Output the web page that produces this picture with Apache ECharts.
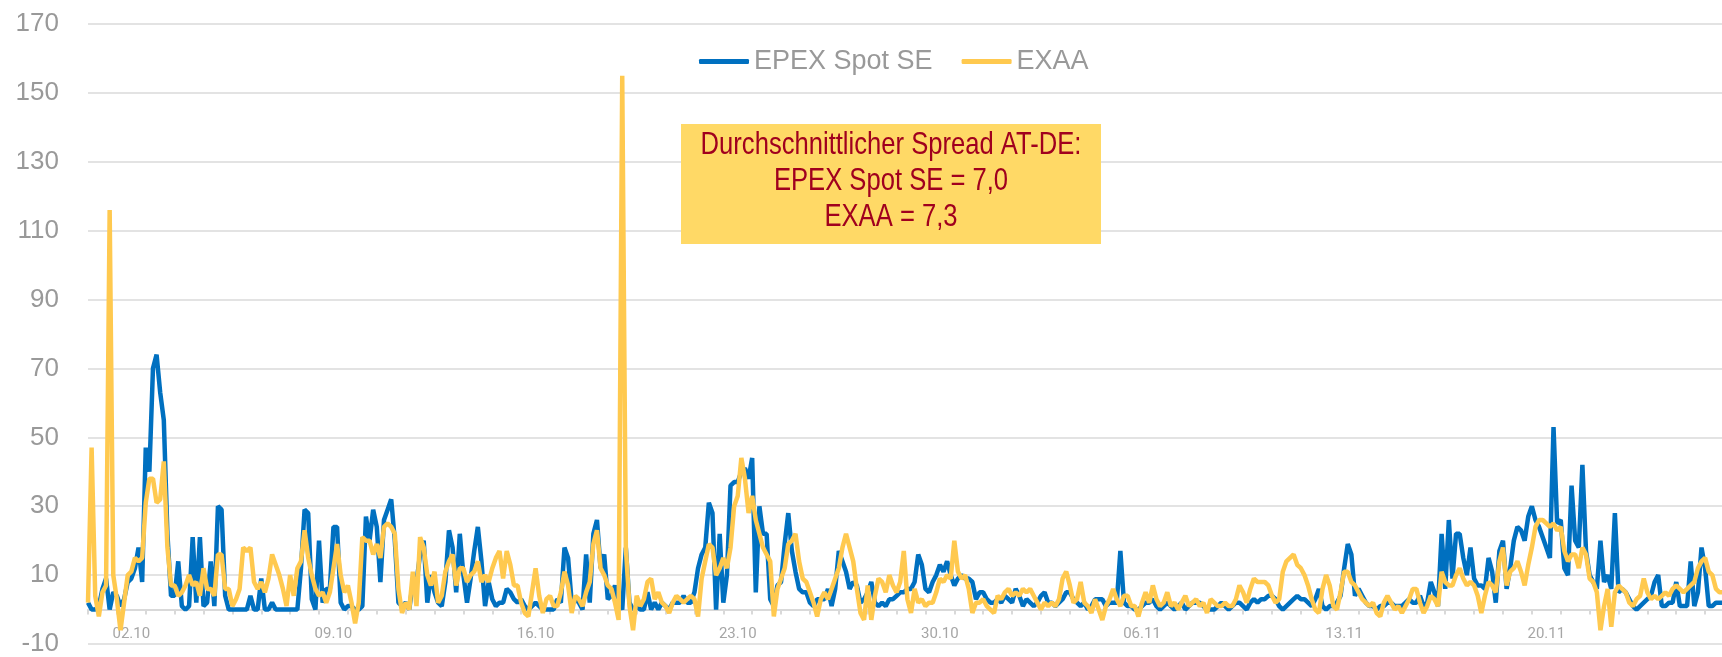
<!DOCTYPE html>
<html>
<head>
<meta charset="utf-8">
<script src="https://cdn.jsdelivr.net/npm/echarts@6/dist/echarts.min.js"></script>
<style>
  html, body { margin: 0; padding: 0; background: #ffffff; }
  #chart { width: 1722px; height: 657px; }
</style>
</head>
<body>
<div id="chart"></div>
<script>
// 3-hourly points starting 01.10 00:00
const STEP_COUNT = 457;

const epexSpotSE = [
  2, 0, 0, 1, 6, 9, 0, 5, 4, 1, 3, 8, 9, 12, 18, 8, 47, 40, 70, 74,
  63, 55, 22, 4, 4, 14, 1, 0, 1, 21, 2, 21, 1, 2, 14, 1, 30, 29, 4, 0,
  0, 0, 0, 0, 0, 4, 0, 0, 9, 0, 0, 2, 0, 0, 0, 0, 0, 0, 0, 12,
  29, 28, 3, 0, 20, 2, 6, 6, 24, 24, 2, 0, 1, 1, 0, 0, 1, 27, 20, 29,
  24, 8, 26, 29, 32, 20, 2, 1,
  2, 0, 8, 8, 16, 20, 2, 10, 5, 2, 1, 8, 23, 18, 5, 22, 10, 2, 9, 17,
  24, 14, 1, 8, 3, 1, 2, 2, 6, 5, 3, 2, 3, 1, 0, 1, 2, 1, 0, 0,
  0, 0, 3, 2, 18, 15, 2, 3, 2, 0, 16, 2, 22, 26, 12, 16, 3, 4, 7, 2,
  0, 18, 2, 0, 1, 0, 0, 5, 0, 2, 0, 2, 1, 0, 2, 2, 2, 4, 2, 2,
  5, 12, 16, 18, 31, 28, 0, 22, 2, 10, 36, 37,
  37, 40, 41, 38, 44, 5, 30, 22, 22, 3, 1, 7, 8, 19, 28, 17, 11, 6, 5, 5,
  2, 1, 3, 3, 3, 6, 1, 6, 17, 14, 11, 6, 8, 7, 2, 3, 5, 8, 2, 1,
  2, 1, 3, 3, 4, 5, 5, 6, 6, 8, 16, 13, 6, 5, 8, 10, 13, 11, 14, 10,
  7, 9, 10, 9, 9, 8, 3, 5, 5, 3, 2, 2, 3, 2, 4, 3, 2, 6, 4, 1,
  3, 2, 1, 2, 4, 5, 2, 2, 1, 2, 3,
  5, 5, 3, 2, 1, 2, 0, 1, 3, 3, 3, 1, 2, 2, 2, 17, 2, 1, 1,
  0, 0, 1, 2, 2, 3, 1, 0, 1, 2, 1, 0, 1, 2, 0, 1, 2, 2, 2, 1,
  0, 0, 0, 1, 2, 1, 0, 1, 2, 2, 1, 0, 2, 3, 2, 3, 3, 4, 4, 3,
  1, 0, 1, 2, 3, 4, 3, 3, 2, 1, 3, 6, 1, 0, 1, 1, 2, 4, 12, 19,
  16, 4, 6, 4, 2, 1, 1, 0, 1, 1, 2, 2,
  1, 1, 1, 2, 3, 2, 2, 4, 1, 2, 8, 5, 1, 22, 6, 26, 9, 22, 22, 15,
  10, 18, 9, 7, 7, 6, 15, 11, 2, 17, 20, 6, 12, 20, 24, 23, 20, 27, 30, 26,
  24, 21, 18, 15, 53, 25, 26, 12, 10, 36, 20, 18, 42, 17, 10, 8, 6, 20, 8, 10,
  6, 28, 5, 6, 5, 3, 1, 0, 1, 2, 3, 4, 8, 10, 1, 1, 2, 2, 8, 1,
  1, 1, 14, 1, 5, 18, 12, 1, 1, 2, 2, 2
];

const exaa = [
  2, 47, 4, -2, 5, 7, 116, 10, 3, -6, 2, 10, 11, 15, 14, 15, 31, 38, 38, 31,
  32, 43, 18, 7, 7, 4, 5, 7, 10, 7, 8, 4, 12, 6, 6, 4, 16, 16, 6, 6,
  1, 3, 6, 18, 17, 18, 8, 6, 8, 5, 9, 16, 13, 10, 6, 1, 10, 4, 12, 14,
  23, 15, 10, 6, 4, 5, 2, 5, 12, 19, 10, 5, 7, 2, -4, 2, 21, 20, 20, 16,
  19, 15, 24, 25, 24, 22, 6, -1,
  2, 0, 11, 1, 21, 18, 10, 7, 11, 2, 4, 11, 14, 16, 7, 12, 12, 8, 10, 11,
  14, 8, 10, 8, 12, 15, 17, 9, 17, 13, 7, 7, 2, -1, -2, 5, 12, 4, -1, 3,
  4, 1, 1, 5, 11, 7, -1, 4, 3, 1, 5, 8, 19, 23, 12, 10, 7, 6, 2, -3,
  155, 18, 1, -6, 4, 1, 3, 8, 9, 3, 5, 2, 1, -1, 2, 4, 3, 2, 3, 4,
  3, -2, 9, 14, 19, 18, 10, 12, 15, 12, 18, 30,
  33, 44, 38, 28, 33, 26, 22, 18, 16, 14, -2, 6, 9, 12, 19, 20, 22, 14, 9, 8,
  5, 2, -2, 3, 5, 3, 6, 9, 12, 18, 22, 18, 14, 6, -1, -3, 7, -3, 4, 9,
  8, 5, 10, 7, 5, 8, 17, 3, -1, 6, 2, 3, 1, 2, 2, 5, 9, 8, 10, 9,
  20, 11, 9, 10, 6, -1, 2, 2, 3, 1, 0, -1, 4, 3, 5, 6, 4, 5, 4, 6,
  5, 6, 4, 2, 0, 2, 1, 2, 1, 3, 9,
  11, 7, 2, 3, 8, 2, 1, -1, 3, 0, -3, 1, 3, 6, 3, 1, 4, 4, 1,
  1, -2, 2, 5, 2, 7, 3, 1, 2, 5, 1, 2, 0, 2, 4, 1, 2, 3, 1, 2,
  -1, 3, 2, 1, 1, 2, 1, 1, 3, 7, 5, 2, 6, 9, 8, 8, 8, 7, 4, 2,
  3, 11, 14, 15, 16, 13, 12, 10, 7, 3, 0, -1, 6, 10, 7, 1, 0, 5, 11, 11,
  8, 7, 5, 3, 2, 1, 2, -1, -2, 2, 4, 2,
  0, 1, -1, 1, 3, 6, 6, 2, -1, 1, 4, 3, 1, 11, 8, 7, 7, 10, 12, 9,
  7, 8, 7, 4, -1, 4, 8, 7, 5, 14, 18, 7, 11, 12, 14, 11, 7, 13, 18, 24,
  26, 26, 25, 24, 25, 23, 24, 17, 14, 16, 16, 12, 18, 16, 9, 8, 5, -6, 1, 6,
  -5, 5, 7, 6, 5, 2, 1, 3, 4, 9, 5, 3, 4, 3, 4, 5, 4, 6, 7, 6,
  5, 6, 7, 8, 12, 14, 15, 11, 10, 6, 5, 5
];

const seriesNames = ['EPEX Spot SE', 'EXAA'];
const spreadLines = ['Durchschnittlicher Spread AT-DE:', 'EPEX Spot SE = 7,0', 'EXAA = 7,3'];

// category per 3 hours, labelled by day
const timeSteps = [];
for (let i = 0; i < STEP_COUNT; i++) {
  const d = Math.floor(i / 8);
  const day = d < 31 ? d + 1 : d - 30;
  const mon = d < 31 ? '10' : '11';
  timeSteps.push(String(day).padStart(2, '0') + '.' + mon);
}

const SANS = "'Liberation Sans', Arial, sans-serif";

const chart = echarts.init(document.getElementById('chart'), null, { renderer: 'canvas' });

chart.setOption({
  backgroundColor: '#ffffff',
  animation: false,
  // plot runs past the right edge (picture is cut off there)
  grid: { left: 88, width: 1646, top: 24, bottom: 13, containLabel: false, outerBoundsMode: 'none' },
  legend: {
    left: 694,
    top: 43,
    icon: 'roundRect',
    itemWidth: 50,
    itemHeight: 5,
    itemGap: 29,
    textStyle: { fontFamily: SANS, fontSize: 27, color: '#999999' },
    data: seriesNames
  },
  xAxis: {
    type: 'category',
    data: timeSteps,
    boundaryGap: false,
    axisLine: { onZero: true, lineStyle: { color: '#d9d9d9', width: 2 } },
    axisTick: {
      show: true,
      interval: (i) => i % 8 === 0,
      length: 5,
      lineStyle: { color: '#d9d9d9', width: 2 }
    },
    axisLabel: {
      interval: (i) => i % 56 === 12,
      fontFamily: 'Roboto, sans-serif',
      fontSize: 15,
      color: '#a6a6a6',
      // labels are anchored at the grid bottom, pull them up under the zero line
      margin: -17
    },
    splitLine: { show: false }
  },
  yAxis: {
    type: 'value',
    min: -10,
    max: 170,
    interval: 20,
    axisLine: { show: false },
    axisTick: { show: false },
    axisLabel: { fontFamily: SANS, fontSize: 26, color: '#999999', margin: 29 },
    splitLine: { lineStyle: { color: '#e3e3e3', width: 2 } }
  },
  series: [
    {
      name: seriesNames[0],
      type: 'line',
      data: epexSpotSE,
      symbol: 'none',
      lineStyle: { color: '#0070c0', width: 4.5 },
      itemStyle: { color: '#0070c0' }
    },
    {
      name: seriesNames[1],
      type: 'line',
      data: exaa,
      symbol: 'none',
      lineStyle: { color: '#ffc94f', width: 4.5 },
      itemStyle: { color: '#ffc94f' }
    }
  ],
  graphic: [
    {
      type: 'rect',
      x: 681,
      y: 124,
      shape: { width: 420, height: 120 },
      style: { fill: '#ffd966' },
      z: 100
    },
    {
      type: 'text',
      x: 891,
      y: 127,
      scaleX: 0.8,
      z: 101,
      style: {
        text: spreadLines.join('\n'),
        align: 'center',
        verticalAlign: 'top',
        lineHeight: 36,
        fontFamily: SANS,
        fontSize: 32,
        fill: '#a0001e'
      }
    }
  ]
});
</script>
</body>
</html>
